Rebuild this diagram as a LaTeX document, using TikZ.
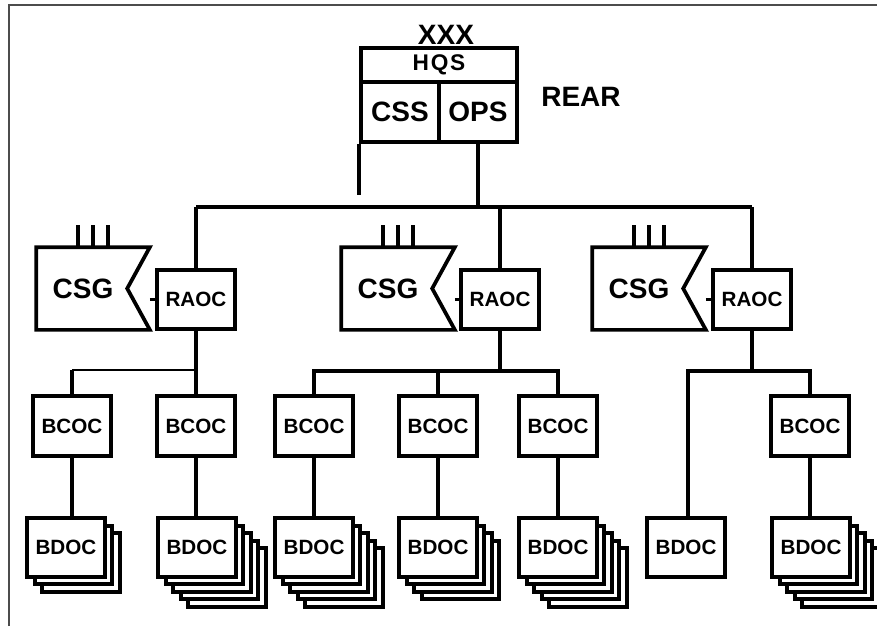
\documentclass[tikz,border=0pt]{standalone}
\usepackage{fontspec}
\setmainfont{Liberation Sans}
\tikzset{
	every node/.style={font=\bfseries},
	unit/.style={draw, line width=2.8pt, fill=white, minimum width=58pt, minimum height=44pt, inner sep=0pt, font=\bfseries\fontsize{15.5}{16}\selectfont},
	cell/.style={draw, line width=2.8pt, inner sep=0pt, font=\bfseries\fontsize{21}{22}\selectfont}
}
\begin{document}
\begin{tikzpicture}[x=0.75pt, y=-0.75pt, line width=2.8pt, line join=miter]
		\useasboundingbox (0,0) rectangle (877,626);
		\draw [gray!60!black, line width=1.5pt] (9,626) -- (9,5) -- (877,5);
		% headquarters
		\node [cell, minimum width=117pt, minimum height=25.5pt, font=\bfseries\fontsize{17}{18}\selectfont\addfontfeature{LetterSpace=8}] (HQS) at (439,65) {HQS};
		\node [cell, minimum width=58.5pt, minimum height=45pt] (CSS) at (400,112) {CSS};
		\node [cell, minimum width=58.5pt, minimum height=45pt] (OPS) at (478,112) {OPS};
		\node [font=\bfseries\fontsize{21}{22}\selectfont, inner sep=0pt] (XXX) at (446,35) {XXX};
		\node [font=\bfseries\fontsize{21}{22}\selectfont, inner sep=0pt] (REAR) at (581,97) {REAR};
		\coordinate (CSS_end) at (0,195);
		\coordinate (Bus) at (0,207);
		\draw (CSS.south west) -- (CSS.south west |- CSS_end);
		\draw (OPS.south) -- (OPS.south |- Bus);
		% area offices with their support groups
		\foreach \x/\c [count=\i] in {196/38, 500/343, 752/594}{
			\node [unit] (RAOC\i) at (\x,299.5) {RAOC};
			\node [minimum width=82.5pt, minimum height=59.25pt, inner sep=0pt, label={[xshift=-7.5pt, font=\bfseries\fontsize{21}{22}\selectfont]center:CSG}] (CSG\i) at (\c+55,288.5) {};
			\draw (CSG\i.north west) -- (CSG\i.north east) -- ([xshift=-17pt]CSG\i.east) -- (CSG\i.south east) -- (CSG\i.south west) -- cycle;
			\foreach \t in {42,57,72}
				\draw ([xshift=\t*0.75pt]CSG\i.north west) -- ++(0,-22);
			\draw (CSG\i.east |- RAOC\i.west) -- (RAOC\i.west);
			\draw (RAOC\i.north) -- (RAOC\i.north |- Bus);
		}
		\draw (RAOC1.north |- Bus) -- (RAOC3.north |- Bus);
		% battalion offices
		\foreach \x [count=\i] in {72, 196, 314, 438, 558, 810}
			\node [unit, minimum height=45pt] (BCOC\i) at (\x,426) {BCOC};
		\foreach \x/\n [count=\i] in {66/3, 197/5, 314/5, 438/4, 558/5, 686/1, 811/5}{
			\pgfmathtruncatemacro\last{\n-1}
			\ifnum\last>0
				\foreach \k in {\last,...,1}
					\node [unit] at (\x+\k*7.5,547.5+\k*7.5) {};
			\fi
			\node [unit] (BDOC\i) at (\x,547.5) {BDOC};
		}
		\coordinate (Bar1) at (0,370);
		\coordinate (Bar2) at (0,371);
		\draw (RAOC1.south) -- (RAOC1.south |- Bar1);
		\draw [line width=1.8pt] (BCOC1.north |- Bar1) -- (BCOC2.north |- Bar1);
		\draw (BCOC1.north |- Bar1) -- (BCOC1.north);
		\draw (BCOC2.north |- Bar1) -- (BCOC2.north);
		\draw (RAOC2.south) -- (RAOC2.south |- Bar2);
		\draw (BCOC3.north) |- (BCOC5.north |- Bar2) -- (BCOC5.north);
		\draw (BCOC4.north) -- (BCOC4.north |- Bar2);
		\draw (RAOC3.south) -- (RAOC3.south |- Bar2);
		\draw ([xshift=1.5pt]BDOC6.north) |- (BCOC6.north |- Bar2) -- (BCOC6.north);
		\foreach \b/\d in {1/1, 2/2, 3/3, 4/4, 5/5, 6/7}
			\draw (BCOC\b.south) -- (BCOC\b.south |- BDOC\d.north);
	\end{tikzpicture}
\end{document}
